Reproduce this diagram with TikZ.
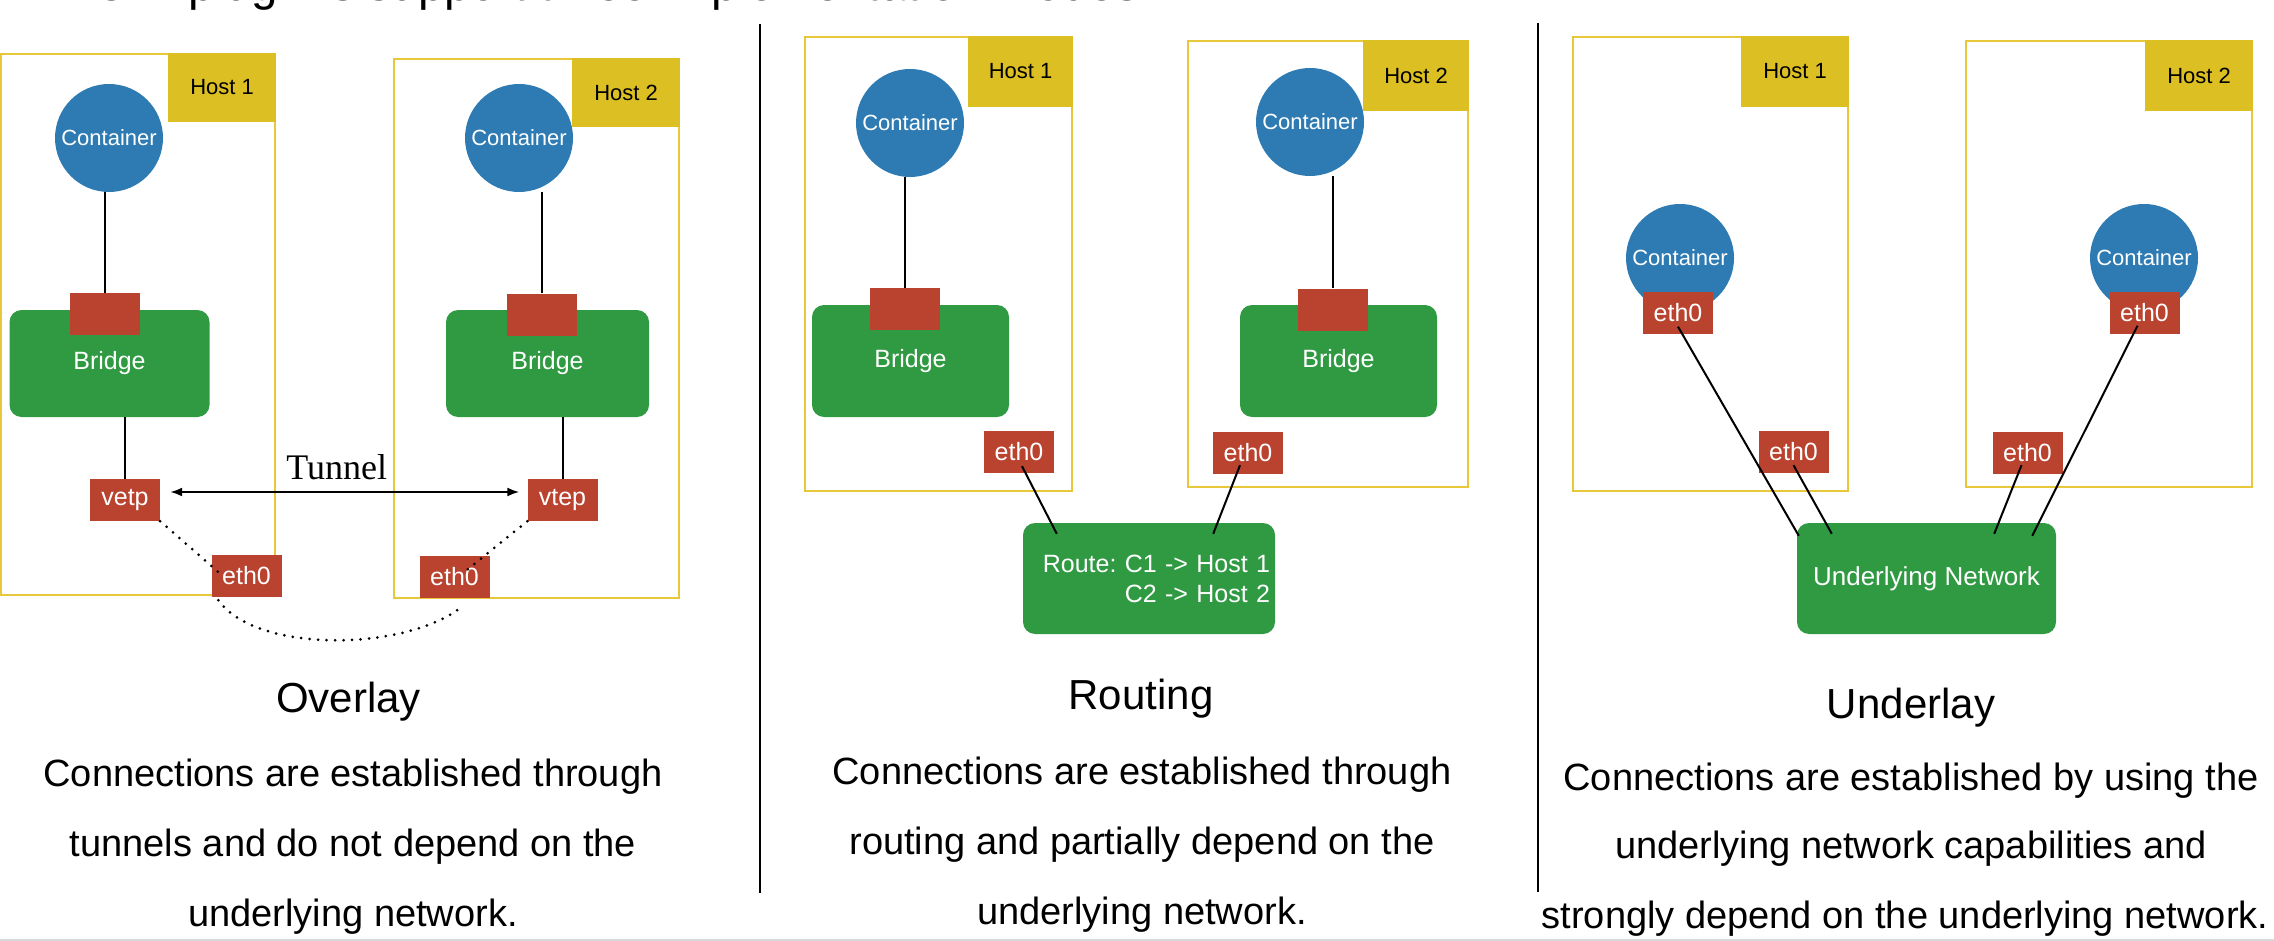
\documentclass[tikz,border=0pt]{standalone}
\usepackage{fontspec}
\setmainfont{Liberation Sans}
\newfontfamily\tunnelfont{Liberation Serif}
\usepackage{xcolor}
\usepackage{tikz}
\usetikzlibrary{arrows.meta}

\definecolor{hostyellow}{HTML}{DCBF22}
\definecolor{frameyellow}{HTML}{E6C83A}
\definecolor{conblue}{HTML}{2E7BB3}
\definecolor{brgreen}{HTML}{2F9A42}
\definecolor{ifacered}{HTML}{B9432F}

\tikzset{
  hostframe/.style={draw=frameyellow, line width=2.5pt, inner sep=0pt},
  hostlabel/.style={fill=hostyellow, minimum width=108pt, minimum height=69pt, inner sep=0pt,
    anchor=north east, font=\fontsize{22}{26}\selectfont},
  container/.style={circle, fill=conblue, minimum size=108pt, inner sep=0pt, text=white,
    font=\fontsize{22}{26}\selectfont},
  bridge/.style={fill=brgreen, rounded corners=12pt, minimum width=200pt, minimum height=107pt,
    text=white, font=\fontsize{25}{30}\selectfont},
  iface/.style={fill=ifacered, minimum width=70pt, minimum height=42pt, inner sep=0pt, text=white,
    font=\fontsize{25}{30}\selectfont},
  wire/.style={draw=black, line width=2pt},
  dotlink/.style={line width=3pt, dash pattern=on 0pt off 8.5pt, line cap=round},
  caption/.style={anchor=base, font=\fontsize{42}{50}\selectfont},
  desc/.style={anchor=base, font=\fontsize{38}{46}\selectfont}
}

\begin{document}
\frenchspacing
\begin{tikzpicture}[x=1pt, y=-1pt]
    \useasboundingbox (0,0) rectangle (2274,941);

    % heading, cut by the top edge
    \node[anchor=base west, font=\fontsize{47.5}{56}\selectfont] (heading) at (90,1) {CNI plug-ins support three implementation modes.};

    % dividers
    \draw[line width=2.5pt] (760,24) -- (760,893);
    \draw[line width=2.5pt] (1538,23) -- (1538,892);

    % Overlay
    \node[hostframe, minimum width=274pt, minimum height=541pt] (ovHostA) at (138,324.5) {};
    \node[hostlabel] (ovLabA) at (ovHostA.north east) {Host 1};
    \node[container] (ovConA) at (109,138) {Container};
    \node[bridge] (ovBrA) at (109.5,363.5) {Bridge};
    \node[iface] (ovPortA) at (104.5,314) {};
    \node[iface] (ovVetp) at (125,500) {vetp};
    \node[iface] (ovEthA) at (246.5,576) {eth0};

    \node[hostframe, minimum width=285pt, minimum height=539pt] (ovHostB) at (536.5,328.5) {};
    \node[hostlabel] (ovLabB) at (ovHostB.north east) {Host 2};
    \node[container] (ovConB) at (519,138) {Container};
    \node[bridge, minimum width=203pt] (ovBrB) at (547.5,363.5) {Bridge};
    \node[iface] (ovPortB) at (542,314.5) {};
    \node[iface] (ovVtep) at (562.5,500) {vtep};
    \node[iface] (ovEthB) at (454.5,576.5) {eth0};

    \draw[wire] (ovPortA.north) -- (ovPortA.north |- ovConA.south);
    \draw[wire] (ovVetp.north) -- (ovVetp.north |- ovBrA.south);
    \draw[wire] (ovPortB.north) -- (ovPortB.north |- ovConB.south);
    \draw[wire] (ovVtep.north) -- (ovVtep.north |- ovBrB.south);
    \draw[wire, <->, >={Latex[length=12pt, width=9pt]}, shorten <=10pt, shorten >=8pt] ([yshift=8pt]ovVetp.east) -- node[above=8pt, xshift=-7pt, font=\tunnelfont\fontsize{36}{40}\selectfont] (tunnelLab) {Tunnel} ([yshift=8pt]ovVtep.west);
    \draw[dotlink] (ovVetp.south east) -- ([xshift=7pt, yshift=4pt]ovEthA.west);
    \draw[dotlink] ([xshift=7pt, yshift=-3pt]ovEthA.south west) .. controls +(37,52) and +(-60,42) .. ([xshift=3.5pt, yshift=-12pt]ovEthB.south);
    \draw[dotlink] (ovVtep.south west) -- ([xshift=12.5pt, yshift=6.5pt]ovEthB.center);

    \node[caption] (ovTitle) at (348.5,712) {Overlay};
    \node[desc] (ovDescA) at (353,786) {Connections are established through};
    \node[desc] (ovDescB) at (353,856) {tunnels and do not depend on the};
    \node[desc] (ovDescC) at (353,926) {underlying network.};

    % Routing
    \node[hostframe, minimum width=267pt, minimum height=454pt] (rtHostA) at (938.5,264) {};
    \node[hostlabel, minimum width=105pt, minimum height=71pt] (rtLabA) at (rtHostA.north east) {Host 1};
    \node[container] (rtConA) at (910,123) {Container};
    \node[bridge, minimum width=197pt, minimum height=112pt] (rtBrA) at (910.5,361) {Bridge};
    \node[iface] (rtPortA) at (905,309) {};
    \node[iface] (rtEthA) at (1019,452) {eth0};

    \node[hostframe, minimum width=280pt, minimum height=446pt] (rtHostB) at (1328,264) {};
    \node[hostlabel, minimum width=106pt, minimum height=71pt] (rtLabB) at (rtHostB.north east) {Host 2};
    \node[container] (rtConB) at (1310,122) {Container};
    \node[bridge, minimum width=197pt, minimum height=112pt] (rtBrB) at (1338.5,361) {Bridge};
    \node[iface] (rtPortB) at (1332.5,309.5) {};
    \node[iface] (rtEthB) at (1248,453) {eth0};

    \node[bridge, minimum width=252pt, minimum height=111pt, text width=242pt, inner xsep=5pt, align=right] (rtRoute) at (1149,578.5) {Route: C1 -> Host 1\\C2 -> Host 2};

    \draw[wire] (rtPortA.north) -- (rtPortA.north |- rtConA.south);
    \draw[wire] (rtPortB.north) -- (rtPortB.north |- rtConB.south);
    \draw[wire] ([xshift=3pt, yshift=7pt]rtEthA.south) -- ([xshift=34pt, yshift=-11pt]rtRoute.north west);
    \draw[wire] ([xshift=-8pt, yshift=9pt]rtEthB.south) -- ([xshift=-62pt, yshift=-11pt]rtRoute.north east);

    \node[caption] (rtTitle) at (1141,709) {Routing};
    \node[desc] (rtDescA) at (1142,784) {Connections are established through};
    \node[desc] (rtDescB) at (1142,854) {routing and partially depend on the};
    \node[desc] (rtDescC) at (1142,924) {underlying network.};

    % Underlay
    \node[hostframe, minimum width=275pt, minimum height=454pt] (ulHostA) at (1710.5,264) {};
    \node[hostlabel, minimum height=71pt] (ulLabA) at (ulHostA.north east) {Host 1};
    \node[container] (ulConA) at (1680,258) {Container};
    \node[iface] (ulCethA) at (1678,312.5) {eth0};
    \node[iface] (ulEthA) at (1793.5,452) {eth0};

    \node[hostframe, minimum width=286pt, minimum height=446pt] (ulHostB) at (2109,264) {};
    \node[hostlabel, minimum height=71pt] (ulLabB) at (ulHostB.north east) {Host 2};
    \node[container] (ulConB) at (2144,258) {Container};
    \node[iface] (ulCethB) at (2144.5,312.5) {eth0};
    \node[iface] (ulEthB) at (2027.5,453) {eth0};

    \node[bridge, minimum width=259pt, minimum height=111pt, font=\fontsize{26}{30}\selectfont] (ulNet) at (1926.5,578.5) {Underlying Network};

    \draw[wire] ([yshift=7pt]ulCethA.south) -- ([xshift=2pt, yshift=-13pt]ulNet.north west);
    \draw[wire] ([yshift=8pt]ulEthA.south) -- ([xshift=35pt, yshift=-11pt]ulNet.north west);
    \draw[wire] ([xshift=-6pt, yshift=9pt]ulEthB.south) -- ([xshift=-62pt, yshift=-11pt]ulNet.north east);
    \draw[wire] ([xshift=-7pt, yshift=8pt]ulCethB.south) -- ([xshift=-24pt, yshift=-13pt]ulNet.north east);

    \node[caption] (ulTitle) at (1911,718) {Underlay};
    \node[desc] (ulDescA) at (1911,790) {Connections are established by using the};
    \node[desc] (ulDescB) at (1911,858) {underlying network capabilities and};
    \node[desc] (ulDescC) at (1905,928) {strongly depend on the underlying network.};

    % slide edge
    \fill[gray!30] (0,938.5) rectangle (2274,941);
\end{tikzpicture}
\end{document}
